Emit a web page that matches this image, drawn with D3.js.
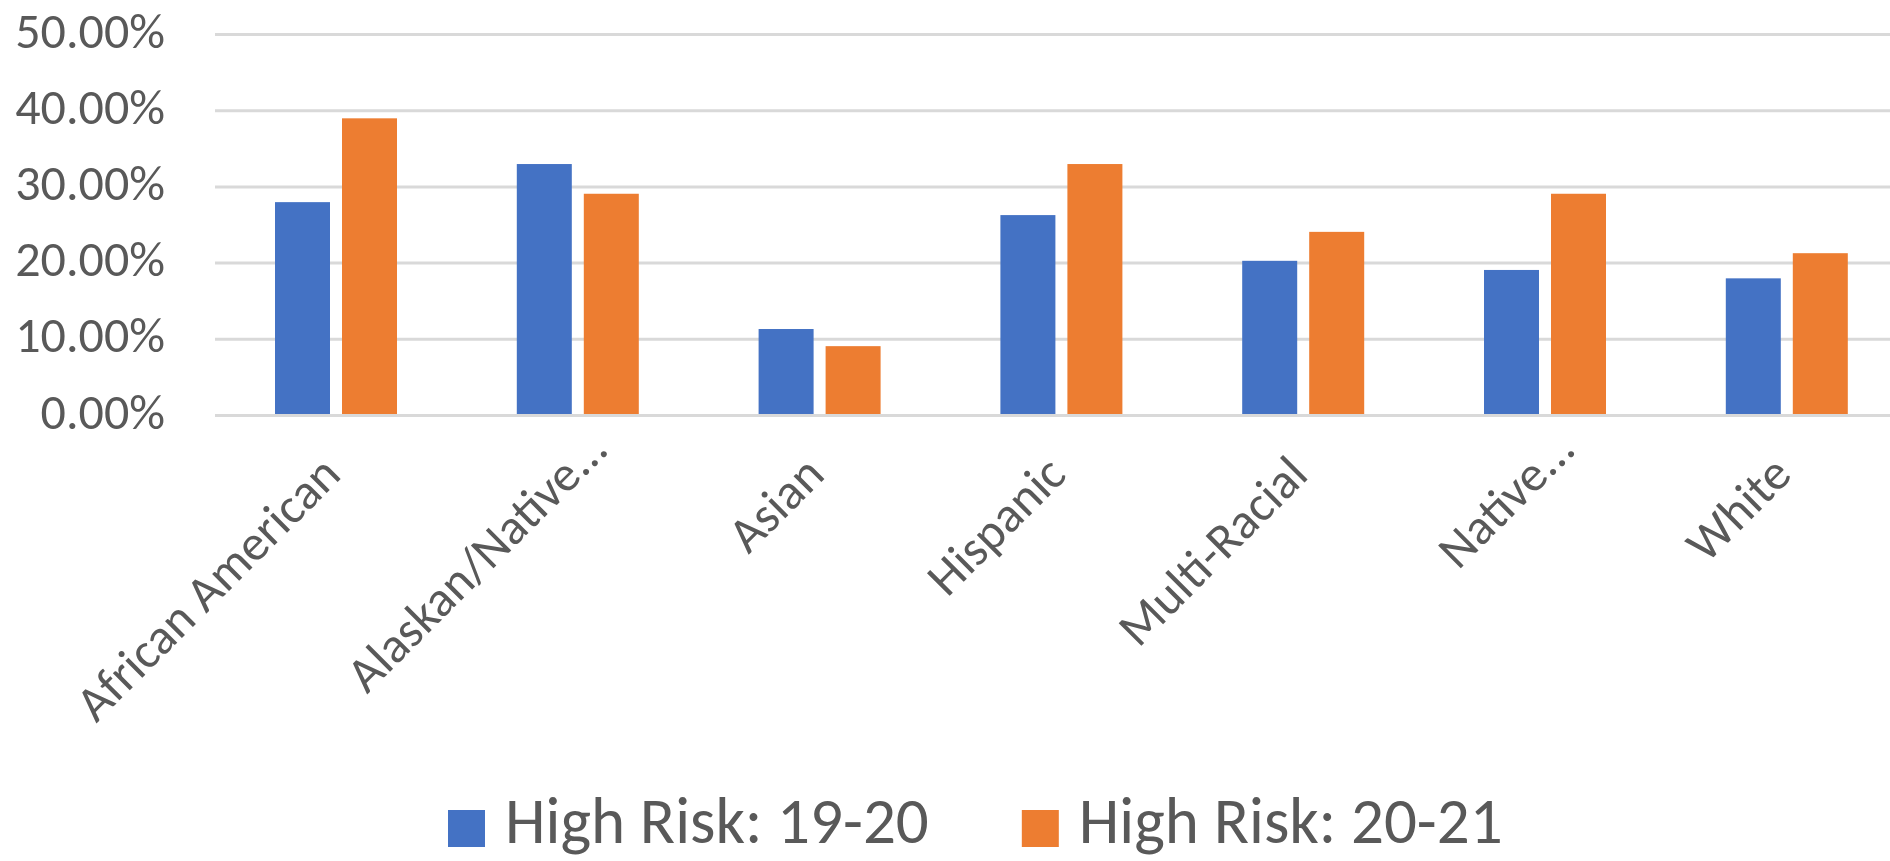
<!DOCTYPE html>
<html><head><meta charset="utf-8">
<script src="https://cdn.jsdelivr.net/npm/d3@7/dist/d3.min.js"></script>
<style>
body{margin:0;background:#fff;}
svg text{font-family:Carlito,"Liberation Sans Narrow","DejaVu Sans Condensed","Open Sans",sans-serif;fill:#595959;}
</style></head>
<body><svg id="chart" width="1890" height="861"></svg>
<script>
const categories = ["African American","Alaskan/Native...","Asian","Hispanic","Multi-Racial","Native...","White"];
const seriesNames = ["High Risk: 19-20","High Risk: 20-21"];
const risk1920 = [0.280,0.330,0.1135,0.263,0.203,0.191,0.180];
const risk2021 = [0.390,0.291,0.091,0.330,0.241,0.291,0.213];
const yTicks = [0,0.1,0.2,0.3,0.4,0.5];
const colors = ["#4472C4","#ED7D31"];

const seriesValues = [risk1920, risk2021];
const svg = d3.select("#chart");
const W = 1890;
const plotLeft = 215, step = 241.8;

const x0 = d3.scaleBand().domain(categories).range([plotLeft, plotLeft + step*categories.length]).padding(0);
const x1 = d3.scaleBand().domain(seriesNames).range([60, 182]).paddingInner(12/67).paddingOuter(0);
const y = d3.scaleLinear().domain([0,0.5]).range([415.5, 34.5]);

// gridlines
svg.append("g").selectAll("line").data(yTicks).join("line")
  .attr("x1", plotLeft).attr("x2", W)
  .attr("y1", d=>y(d)).attr("y2", d=>y(d))
  .attr("stroke", "#d9d9d9").attr("stroke-width", 3);

// y tick labels
svg.append("g").selectAll("text").data(yTicks).join("text")
  .attr("x", 165).attr("y", d=>y(d)).attr("dy", 13)
  .attr("text-anchor","end").attr("font-size", 50)
  .text(d=>d3.format(".2%")(d));

// bars
const rows = categories.map((c,i)=>({cat:c, vals: seriesNames.map((s,j)=>({s, v: seriesValues[j][i], color: colors[j]}))}));
const groups = svg.append("g").selectAll("g").data(rows).join("g")
  .attr("transform", d=>`translate(${x0(d.cat)},0)`);
groups.selectAll("rect").data(d=>d.vals).join("rect")
  .attr("x", d=>x1(d.s)).attr("width", x1.bandwidth())
  .attr("y", d=>y(d.v)).attr("height", d=>y(0)-1.5-y(d.v))
  .attr("fill", d=>d.color);

// category labels
svg.append("g").selectAll("text").data(categories).join("text")
  .attr("transform", d=>`translate(${x0(d)+x0.bandwidth()/2+7},477) rotate(-45)`)
  .attr("dx", d=>d.endsWith("...") ? 36 : 0)
  .attr("text-anchor","end").attr("font-size", 50)
  .text(d=>d);

// legend
const leg = svg.append("g");
let lx = 448;
seriesNames.forEach((s,i)=>{
  leg.append("rect").attr("x", lx).attr("y", 810).attr("width", 37).attr("height", 37).attr("fill", colors[i]);
  const t = leg.append("text").attr("x", lx+57).attr("y", 843).attr("font-size", 65).text(s);
  lx = lx + 57 + t.node().getComputedTextLength() + 93;
});
</script>
</body></html>
